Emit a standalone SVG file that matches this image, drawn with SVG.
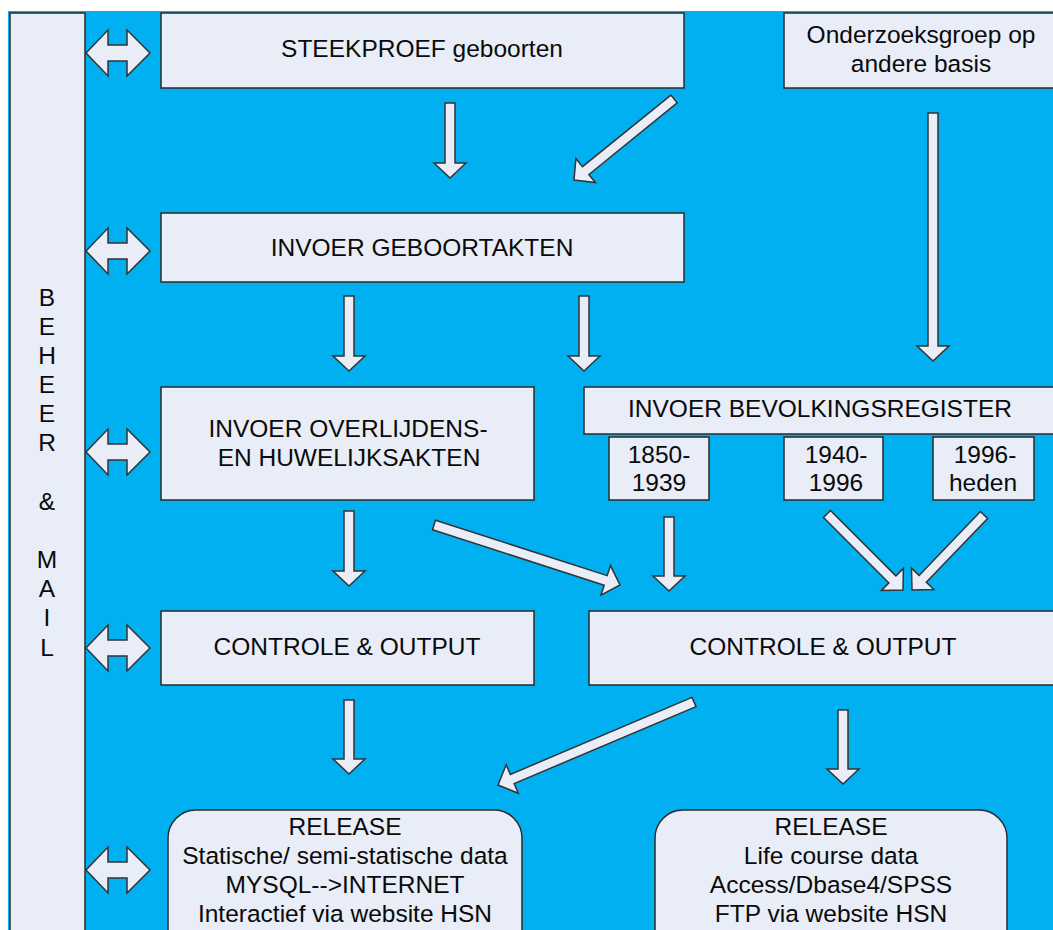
<svg xmlns="http://www.w3.org/2000/svg" width="1053" height="930" viewBox="0 0 1053 930">
<style>
.box{fill:#E8EDF7;stroke:#2a2a2a;stroke-width:1.5}
.arr{fill:#E8EDF7;stroke:#333;stroke-width:1.5;stroke-linejoin:miter}
text{font-family:"Liberation Sans",Arial,sans-serif;font-size:24.5px;fill:#0a0a0a;text-anchor:middle}
</style>
<defs>
<path id="dbl" class="arr" d="M86,0 L108,-23 L108,-8 L127,-8 L127,-23 L150,0 L127,23 L127,8 L108,8 L108,23 Z"/>
</defs>
<rect x="0" y="0" width="1053" height="930" fill="#ffffff"/>
<rect x="8" y="11" width="1045" height="919" fill="#00B0F0"/>

<g id="beheer">
<rect class="box" x="10" y="13" width="75" height="930"/>
<text x="47" y="306">B</text>
<text x="47" y="335">E</text>
<text x="47" y="364">H</text>
<text x="47" y="393">E</text>
<text x="47" y="422">E</text>
<text x="47" y="451">R</text>
<text x="47" y="510">&amp;</text>
<text x="47" y="568">M</text>
<text x="47" y="597">A</text>
<text x="47" y="626">I</text>
<text x="47" y="656">L</text>
</g>

<g id="steekproef">
<rect class="box" x="161" y="13" width="523" height="75"/>
<text x="422" y="57">STEEKPROEF geboorten</text>
</g>
<g id="onderzoeksgroep">
<rect class="box" x="784" y="13" width="290" height="75"/>
<text x="921" y="43">Onderzoeksgroep op</text>
<text x="921" y="72">andere basis</text>
</g>
<g id="geboortakten">
<rect class="box" x="161" y="213" width="523" height="69"/>
<text x="422" y="256">INVOER GEBOORTAKTEN</text>
</g>
<g id="overlijdens">
<rect class="box" x="161" y="387" width="373" height="113"/>
<text x="348" y="437">INVOER OVERLIJDENS-</text>
<text x="349" y="466">EN HUWELIJKSAKTEN</text>
</g>
<g id="bevolkingsregister">
<rect class="box" x="584" y="387" width="490" height="47"/>
<text x="820" y="417">INVOER BEVOLKINGSREGISTER</text>
</g>
<g id="p1850">
<rect class="box" x="609" y="437" width="100" height="63"/>
<text x="659" y="463">1850-</text>
<text x="659" y="491">1939</text>
</g>
<g id="p1940">
<rect class="box" x="784" y="437" width="99" height="63"/>
<text x="836" y="463">1940-</text>
<text x="836" y="491">1996</text>
</g>
<g id="p1996">
<rect class="box" x="933" y="437" width="101" height="63"/>
<text x="985" y="463">1996-</text>
<text x="983" y="491">heden</text>
</g>
<g id="controle1">
<rect class="box" x="161" y="611" width="373" height="74"/>
<text x="347" y="655">CONTROLE &amp; OUTPUT</text>
</g>
<g id="controle2">
<rect class="box" x="589" y="611" width="490" height="74"/>
<text x="823" y="655">CONTROLE &amp; OUTPUT</text>
</g>
<g id="release1">
<rect class="box" x="168" y="810" width="354" height="150" rx="28" ry="28"/>
<text x="345" y="835">RELEASE</text>
<text x="345" y="864">Statische/ semi-statische data</text>
<text x="345" y="893">MYSQL--&gt;INTERNET</text>
<text x="345" y="922">Interactief via website HSN</text>
</g>
<g id="release2">
<rect class="box" x="655" y="810" width="352" height="150" rx="28" ry="28"/>
<text x="831" y="835">RELEASE</text>
<text x="831" y="864">Life course data</text>
<text x="831" y="893">Access/Dbase4/SPSS</text>
<text x="831" y="922">FTP via website HSN</text>
</g>

<g id="connectors">
<use href="#dbl" transform="translate(0,53)"/>
<use href="#dbl" transform="translate(0,251)"/>
<use href="#dbl" transform="translate(0,452)"/>
<use href="#dbl" transform="translate(0,648)"/>
<use href="#dbl" transform="translate(0,870)"/>

<polygon class="arr" points="445,103 445,163 434,163 450,178 466,163 455,163 455,103"/>
<polygon class="arr" points="670.9,95.1 582.5,166.7 575.9,158.5 574,180 595.4,182.6 588.9,174.5 677.2,102.9"/>
<polygon class="arr" points="344,296 344,356 333,356 349,371 365,356 354,356 354,296"/>
<polygon class="arr" points="579,296 579,356 568,356 584,371 600,356 589,356 589,296"/>
<polygon class="arr" points="928,113 928,346 917,346 933,361 949,346 938,346 938,113"/>
<polygon class="arr" points="344,511 344,571 333,571 349,586 365,571 354,571 354,511"/>
<polygon class="arr" points="432.5,529.8 604.2,585.2 600.9,595.2 620,585 610.5,565.6 607.2,575.6 435.5,520.2"/>
<polygon class="arr" points="664,517 664,576 653,576 669,591 685,576 674,576 674,517"/>
<polygon class="arr" points="823.5,517.5 888.9,582.9 881.4,590.4 903,590 903.4,568.4 895.9,575.9 830.5,510.5"/>
<polygon class="arr" points="980.4,511.5 919.1,575.4 911.5,568.1 912,590 933.9,589.5 926.3,582.3 987.6,518.5"/>
<polygon class="arr" points="344,700 344,759 333,759 349,774 365,759 354,759 354,700"/>
<polygon class="arr" points="692,697.4 510.3,774.4 506.2,764.7 498,785 518.3,793.3 514.2,783.6 696,706.6"/>
<polygon class="arr" points="838,710 838,769 827,769 843,784 859,769 848,769 848,710"/>
</g>
</svg>
